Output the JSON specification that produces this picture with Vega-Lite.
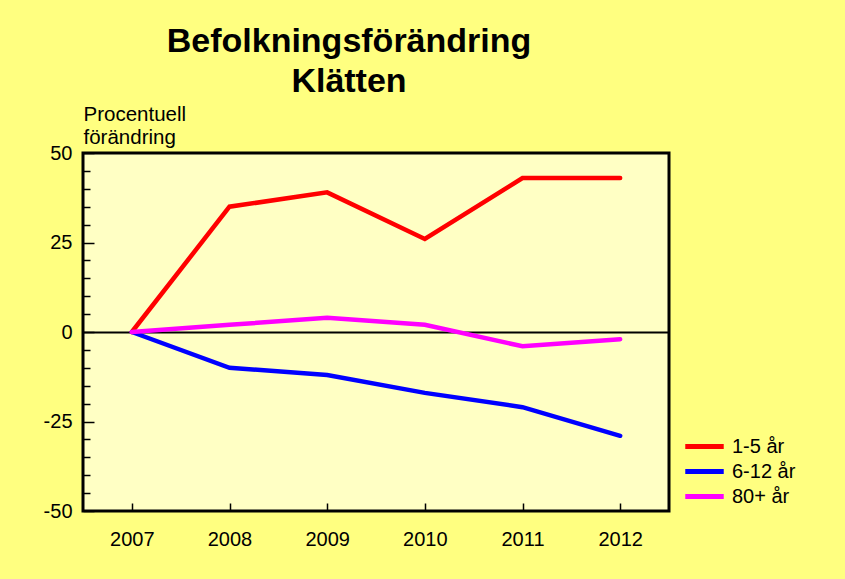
{
  "$schema": "https://vega.github.io/schema/vega-lite/v6.json",
  "width": 586,
  "height": 358,
  "autosize": "none",
  "padding": {"left": 83, "top": 153, "right": 176, "bottom": 68},
  "background": "#FFFF80",
  "title": {
    "text": ["Befolkningsförändring", "Klätten"],
    "font": "Liberation Sans",
    "fontSize": 34,
    "fontWeight": "bold",
    "color": "black",
    "lineHeight": 40,
    "anchor": "middle",
    "frame": "group",
    "dx": -27,
    "offset": 5
  },
  "config": {
    "view": {"fill": "#FFFFC4", "stroke": "black", "strokeWidth": 3},
    "font": "Liberation Sans"
  },
  "data": {
    "values": [
      {"year": "2007", "group": "1-5 år", "value": 0},
      {"year": "2008", "group": "1-5 år", "value": 35},
      {"year": "2009", "group": "1-5 år", "value": 39},
      {"year": "2010", "group": "1-5 år", "value": 26},
      {"year": "2011", "group": "1-5 år", "value": 43},
      {"year": "2012", "group": "1-5 år", "value": 43},
      {"year": "2007", "group": "6-12 år", "value": 0},
      {"year": "2008", "group": "6-12 år", "value": -10},
      {"year": "2009", "group": "6-12 år", "value": -12},
      {"year": "2010", "group": "6-12 år", "value": -17},
      {"year": "2011", "group": "6-12 år", "value": -21},
      {"year": "2012", "group": "6-12 år", "value": -29},
      {"year": "2007", "group": "80+ år", "value": 0},
      {"year": "2008", "group": "80+ år", "value": 2},
      {"year": "2009", "group": "80+ år", "value": 4},
      {"year": "2010", "group": "80+ år", "value": 2},
      {"year": "2011", "group": "80+ år", "value": -4},
      {"year": "2012", "group": "80+ år", "value": -2}
    ]
  },
  "mark": {"type": "line", "strokeWidth": 4.5, "strokeCap": "round"},
  "encoding": {
    "x": {
      "field": "year",
      "type": "ordinal",
      "scale": {"type": "point", "padding": 0.5},
      "axis": {
        "title": null,
        "labelAngle": 0,
        "labelFontSize": 20,
        "labelColor": "black",
        "domain": false,
        "tickColor": "black",
        "tickWidth": 1.5,
        "tickSize": -8,
        "labelPadding": 26
      }
    },
    "y": {
      "field": "value",
      "type": "quantitative",
      "scale": {"domain": [-50, 50], "nice": false},
      "axis": {
        "values": [-50, -45, -40, -35, -30, -25, -20, -15, -10, -5, 0, 5, 10, 15, 20, 25, 30, 35, 40, 45, 50],
        "labelExpr": "datum.value % 25 === 0 ? toString(datum.value) : ''",
        "grid": true,
        "gridColor": "black",
        "gridWidth": 2,
        "gridOpacity": {"condition": {"test": "datum.value === 0", "value": 1}, "value": 0},
        "domain": false,
        "tickColor": "black",
        "tickWidth": 1.5,
        "tickSize": {"condition": {"test": "datum.value % 25 === 0", "value": -11}, "value": -7},
        "labelFontSize": 20,
        "labelColor": "black",
        "labelPadding": 22,
        "labelFlush": false,
        "title": ["Procentuell", "förändring"],
        "titleAngle": 0,
        "titleAlign": "left",
        "titleBaseline": "alphabetic",
        "titleX": 0,
        "titleY": -33,
        "titleFontSize": 20.5,
        "titleFontWeight": "normal",
        "titleColor": "black",
        "titleLineHeight": 23
      }
    },
    "color": {
      "field": "group",
      "type": "nominal",
      "scale": {"domain": ["1-5 år", "6-12 år", "80+ år"], "range": ["#FF0000", "#0000FF", "#FF00FF"]},
      "legend": {
        "title": null,
        "orient": "none",
        "legendX": 609,
        "legendY": 281,
        "symbolType": "M-2,0H2",
        "symbolStrokeWidth": 5,
        "symbolSize": 370,
        "labelFontSize": 20,
        "labelColor": "black",
        "rowPadding": 2,
        "labelOffset": 15
      }
    }
  }
}
